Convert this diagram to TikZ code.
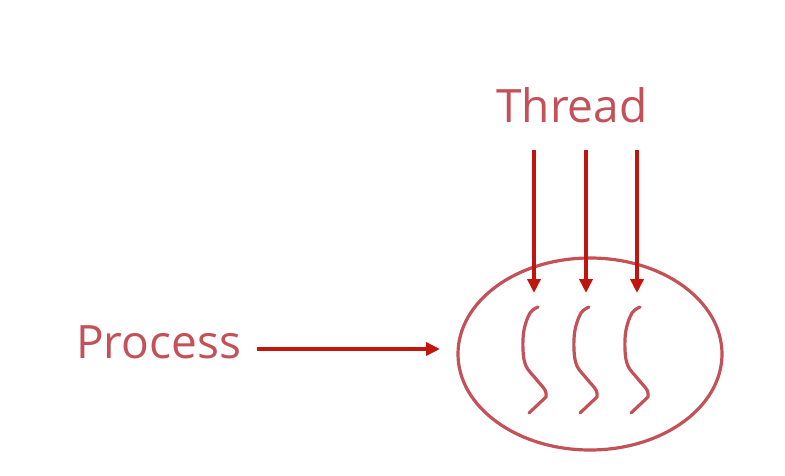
\documentclass[tikz,border=0pt]{standalone}
\usepackage{fontspec}
\setmainfont{Open Sans}
\usetikzlibrary{arrows.meta}
\definecolor{lbl}{RGB}{196,80,88}
\definecolor{arr}{RGB}{192,22,14}
\tikzset{
  labeltext/.style={text=lbl, font=\fontsize{46}{50}\selectfont, inner sep=0pt},
  ptr/.style={draw=arr, line width=3.5pt, -{Triangle[length=14pt,width=13pt]}},
  squig/.style={draw=lbl, line width=3.2pt, line cap=round, line join=round},
}
\begin{document}
\begin{tikzpicture}[x=1pt,y=-1pt]
\useasboundingbox (0,0) rectangle (785,476);
% process ellipse
\draw[draw=lbl, line width=3.2pt] (590,354) ellipse [x radius=132, y radius=96];
% labels
\node[labeltext, anchor=base] (thread) at (572,123) {Thread};
\node[labeltext, anchor=base west] (process) at (76,358) {Process};
% process arrow
\coordinate (pstart) at (257,349);
\coordinate (pend) at (440,349);
\draw[ptr] (pstart) -- (pend);
% thread arrows
\foreach \i/\x in {1/534,2/586,3/637}{
  \coordinate (ts\i) at (\x,150);
  \coordinate (te\i) at (\x,293);
  \draw[ptr] (ts\i) -- (te\i);
}
% squiggles
\foreach \dx in {0,51,102}{
  \begin{scope}[shift={(\dx,0)}]
    \draw[squig] plot[smooth, tension=0.6] coordinates {(538,307) (530,313) (524,330) (523,350) (526,366) (536,379) (545,390) (546,397)} -- (529,413);
  \end{scope}
}
\end{tikzpicture}
\end{document}
